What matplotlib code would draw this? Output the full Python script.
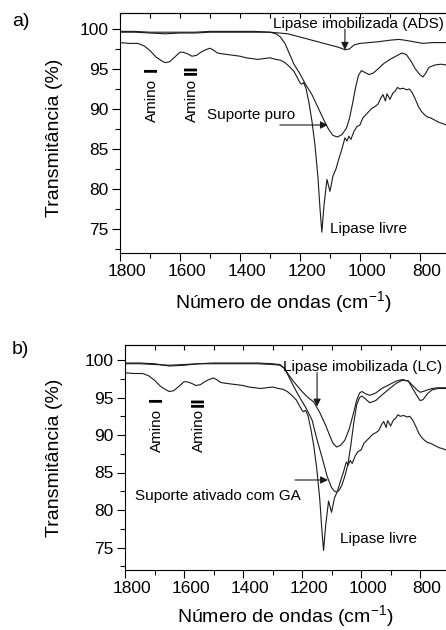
import matplotlib
matplotlib.use('Agg')
import matplotlib.pyplot as plt
import matplotlib.transforms as mtransforms
from matplotlib.ticker import MultipleLocator

plt.rcParams['font.family'] = ['Liberation Sans', 'DejaVu Sans']
plt.rcParams['mathtext.fontset'] = 'custom'
plt.rcParams['mathtext.rm'] = 'Liberation Sans'
plt.rcParams['mathtext.it'] = 'Liberation Sans:italic'
plt.rcParams['mathtext.bf'] = 'Liberation Sans:bold'

# ---- data (wavenumber cm-1, transmittance %) ----
# free lipase, same spectrum in both panels
wn_livre = [1800, 1770, 1740, 1720, 1700, 1680, 1660, 1650, 1635, 1620, 1600, 1590,
            1575, 1560, 1545, 1530, 1515, 1500, 1490, 1475, 1460, 1440, 1420, 1400,
            1380, 1360, 1340, 1320, 1300, 1280, 1265, 1250, 1235, 1220, 1210, 1200,
            1195, 1188, 1180, 1170, 1160, 1150, 1140, 1133, 1127, 1120, 1110, 1100,
            1090, 1080, 1070, 1060, 1050, 1043, 1037, 1030, 1020, 1010, 1000, 990,
            980, 970, 960, 950, 940, 930, 923, 915, 910, 905, 900, 890, 883, 875,
            867, 855, 845, 835, 825, 815, 805, 795, 785, 775, 765, 755, 745, 735,
            725, 712]
t_livre = [98.3, 98.2, 98.2, 97.9, 97.3, 96.5, 96.0, 95.8, 95.9, 96.4, 97.1, 97.1,
           96.9, 96.6, 96.7, 97.1, 97.4, 97.6, 97.4, 97.0, 96.9, 96.8, 96.7, 96.6,
           96.4, 96.3, 96.2, 96.3, 96.4, 96.2, 96.1, 95.8, 95.3, 94.7, 94.0, 93.3,
           93.1, 93.3, 92.6, 90.8, 88.5, 85.5, 81.5, 77.5, 74.6, 77.9, 81.2, 79.7,
           81.6, 82.5, 83.8, 85.0, 86.4, 86.0, 86.6, 86.2, 87.2, 87.8, 88.0, 88.9,
           89.3, 89.7, 90.1, 90.3, 90.6, 91.4, 91.8, 91.0, 91.9, 91.6, 91.2, 92.0,
           92.2, 92.7, 92.5, 92.6, 92.4, 92.5, 92.0, 91.2, 90.3, 89.7, 89.3, 89.0,
           88.9, 88.7, 88.5, 88.3, 88.2, 88.0]

# panel a
wn_ads = [1800, 1750, 1700, 1650, 1600, 1550, 1500, 1450, 1400, 1350, 1300, 1270,
          1240, 1210, 1180, 1150, 1120, 1090, 1070, 1050, 1035, 1020, 1000, 970,
          940, 900, 870, 850, 820, 790, 760, 730, 712]
t_ads = [99.6, 99.6, 99.5, 99.4, 99.5, 99.5, 99.6, 99.6, 99.6, 99.6, 99.6, 99.5,
         99.4, 99.1, 98.8, 98.5, 98.2, 97.9, 97.7, 97.4, 97.5, 98.0, 98.2, 98.3,
         98.4, 98.6, 98.7, 98.6, 98.4, 98.2, 98.3, 98.3, 98.3]

wn_puro = [1800, 1750, 1700, 1650, 1600, 1550, 1500, 1450, 1400, 1350, 1300, 1280,
           1265, 1250, 1235, 1220, 1200, 1180, 1160, 1140, 1120, 1105, 1090, 1075,
           1060, 1045, 1035, 1025, 1015, 1005, 995, 985, 970, 955, 940, 920, 900,
           880, 860, 845, 830, 815, 800, 790, 780, 770, 750, 730, 712]
t_puro = [99.7, 99.7, 99.6, 99.6, 99.6, 99.6, 99.7, 99.7, 99.7, 99.7, 99.6, 99.4,
          99.0, 98.2, 96.9, 95.6, 94.4, 93.0, 91.8, 90.2, 88.6, 87.5, 86.7, 86.5,
          86.8, 87.6, 88.8, 90.6, 92.6, 94.2, 94.8, 94.6, 94.3, 94.5, 95.0, 95.7,
          96.2, 96.6, 97.0, 96.8, 96.0, 95.0, 94.3, 94.0, 94.5, 95.2, 95.5, 95.6, 95.5]

# panel b
wn_lc = [1800, 1750, 1700, 1650, 1600, 1550, 1500, 1450, 1400, 1350, 1300, 1275,
         1260, 1245, 1230, 1215, 1200, 1180, 1160, 1140, 1120, 1105, 1095, 1083,
         1070, 1055, 1040, 1025, 1015, 1005, 997, 985, 970, 950, 930, 900, 880,
         860, 840, 825, 810, 800, 790, 775, 760, 740, 712]
t_lc = [99.5, 99.5, 99.4, 99.3, 99.4, 99.5, 99.5, 99.5, 99.5, 99.5, 99.4, 99.3,
        98.9, 98.0, 97.2, 96.5, 95.8, 95.0, 94.4, 93.0, 91.3, 89.8, 88.9, 88.4,
        88.6, 89.3, 90.8, 93.0, 94.6, 95.6, 95.8, 95.5, 95.3, 95.6, 96.2, 96.8,
        97.2, 97.4, 97.2, 96.6, 96.0, 95.7, 95.8, 96.0, 96.2, 96.3, 96.3]

wn_ga = [1800, 1750, 1700, 1650, 1600, 1550, 1500, 1450, 1400, 1350, 1300, 1275,
         1260, 1245, 1230, 1215, 1200, 1185, 1166, 1150, 1132, 1115, 1100, 1090,
         1083, 1075, 1065, 1055, 1045, 1035, 1025, 1015, 1005, 997, 985, 970, 950,
         930, 900, 880, 860, 840, 825, 810, 800, 790, 775, 760, 740, 712]
t_ga = [99.6, 99.6, 99.5, 99.2, 99.3, 99.5, 99.6, 99.6, 99.6, 99.6, 99.5, 99.4,
        98.9, 97.8, 96.6, 95.5, 94.5, 93.5, 92.0, 89.5, 87.0, 84.5, 83.0, 82.5,
        82.4, 82.6, 83.3, 84.5, 86.0, 88.5, 91.5, 94.0, 95.0, 95.2, 94.8, 94.3,
        94.6, 95.3, 96.3, 96.9, 97.3, 97.2, 96.2, 95.2, 94.6, 94.7, 95.5, 96.0,
        96.2, 96.2]

xticks = [1800, 1600, 1400, 1200, 1000, 800]
yticks = [75, 80, 85, 90, 95, 100]

fig = plt.figure(figsize=(4.46, 6.30), dpi=100)
ax_a = fig.add_axes([120 / 446, 1 - 253 / 630, 326 / 446, 240 / 630])
ax_b = fig.add_axes([125 / 446, 1 - 570 / 630, 321 / 446, 225 / 630])

lc = '#1a1a1a'
lw = 0.8

ax_a.plot(wn_ads, t_ads, color=lc, lw=lw)
ax_a.plot(wn_puro, t_puro, color=lc, lw=lw)
ax_a.plot(wn_livre, t_livre, color=lc, lw=lw)

ax_b.plot(wn_lc, t_lc, color=lc, lw=lw)
ax_b.plot(wn_ga, t_ga, color=lc, lw=lw)
ax_b.plot(wn_livre, t_livre, color=lc, lw=lw)

ax_a.set_xlim(1800, 713)
ax_b.set_xlim(1800, 712)

shift = mtransforms.ScaledTranslation(0.07, 0, fig.dpi_scale_trans)
for ax in (ax_a, ax_b):
    ax.set_ylim(72, 102)
    ax.set_xticks(xticks)
    ax.set_yticks(yticks)
    ax.xaxis.set_minor_locator(MultipleLocator(100))
    ax.yaxis.set_minor_locator(MultipleLocator(2.5))
    ax.tick_params(which='major', direction='out', length=6, width=0.8,
                   labelsize=12.5, pad=2)
    ax.tick_params(which='minor', direction='out', length=3.5, width=0.8)
    ax.spines['right'].set_visible(False)
    for s in ('left', 'bottom', 'top'):
        ax.spines[s].set_linewidth(0.8)
    top = ax.secondary_xaxis('top')
    top.xaxis.set_major_locator(MultipleLocator(200))
    top.xaxis.set_minor_locator(MultipleLocator(100))
    top.tick_params(which='both', direction='in', length=3.5, width=0.8,
                    labeltop=False)
    top.spines['top'].set_linewidth(0.8)
    ax.set_ylabel('Transmitância (%)', fontsize=14)
    for lab in ax.get_xticklabels():
        lab.set_transform(lab.get_transform() + shift)

ax_a.set_xlabel('Número de ondas (cm$^{-1}$)', fontsize=14, labelpad=7)
ax_b.set_xlabel('Número de ondas (cm$^{-1}$)', fontsize=14, labelpad=5)
ax_a.yaxis.set_label_coords(-0.175, 0.48)
ax_b.yaxis.set_label_coords(-0.193, 0.5)

arrow = dict(arrowstyle='-|>', color=lc, lw=0.8, mutation_scale=11,
             shrinkA=0, shrinkB=0)
fs = 11

# panel a labels
ax_a.text(1290, 100.1, 'Lipase imobilizada (ADS)', fontsize=fs, va='baseline')
ax_a.annotate('', xy=(1050, 97.4), xytext=(1050, 100.0), arrowprops=arrow)
ax_a.text(1510, 89.25, 'Suporte puro', fontsize=fs, va='center')
ax_a.annotate('', xy=(1107, 88.0), xytext=(1267, 88.0), arrowprops=arrow)
ax_a.text(1100, 75.0, 'Lipase livre', fontsize=fs, va='center')
ax_a.text(1693, 91.1, 'Amino', fontsize=fs, rotation=90, ha='center', va='center')
ax_a.text(1693, 95.0, 'I', fontsize=14, fontweight='bold', rotation=90,
          ha='center', va='center')
ax_a.text(1560, 91.1, 'Amino', fontsize=fs, rotation=90, ha='center', va='center')
ax_a.text(1560, 94.9, 'II', fontsize=14, fontweight='bold', rotation=90,
          ha='center', va='center')

# panel b labels
ax_b.text(1264, 98.55, 'Lipase imobilizada (LC)', fontsize=fs, va='baseline')
ax_b.annotate('', xy=(1149, 93.8), xytext=(1149, 98.3), arrowprops=arrow)
ax_b.text(1766, 81.9, 'Suporte ativado com GA', fontsize=fs, va='center')
ax_b.annotate('', xy=(1112, 84.0), xytext=(1224, 84.0), arrowprops=arrow)
ax_b.text(1071, 76.1, 'Lipase livre', fontsize=fs, va='center')
ax_b.text(1692, 90.6, 'Amino', fontsize=fs, rotation=90, ha='center', va='center')
ax_b.text(1692, 94.8, 'I', fontsize=14, fontweight='bold', rotation=90,
          ha='center', va='center')
ax_b.text(1549, 90.6, 'Amino', fontsize=fs, rotation=90, ha='center', va='center')
ax_b.text(1549, 94.4, 'II', fontsize=14, fontweight='bold', rotation=90,
          ha='center', va='center')

fig.text(12 / 446, 1 - 22 / 630, 'a)', fontsize=14, va='center')
fig.text(12 / 446, 1 - 350 / 630, 'b)', fontsize=14, va='center')

fig.savefig('out.png', dpi=100)
